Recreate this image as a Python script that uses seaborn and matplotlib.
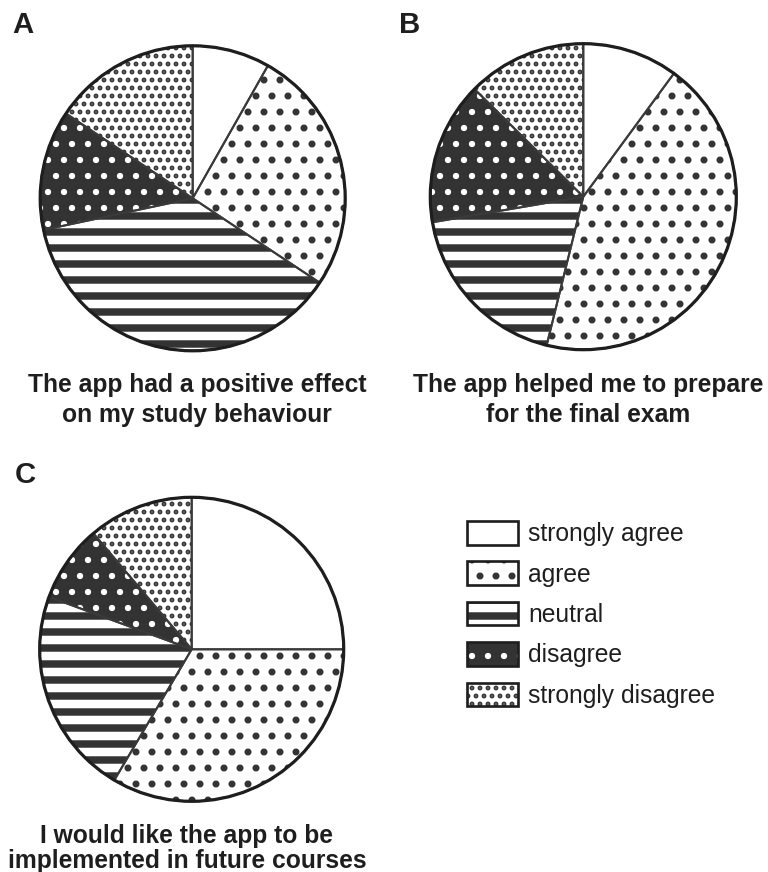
import matplotlib
matplotlib.use("Agg")
import matplotlib.pyplot as plt
import seaborn as sns
from matplotlib.patches import Patch, Circle, Rectangle
from matplotlib.legend_handler import HandlerTuple, HandlerPatch

# Survey answers in percent, clockwise from 12 o'clock
categories = ["strongly agree", "agree", "neutral", "disagree", "strongly disagree"]
effect_study = [8.2, 26.1, 37.3, 12.7, 15.6]
prepare_exam = [10.1, 43.8, 18.5, 15.1, 12.6]
future_courses = [25.0, 33.5, 22.1, 8.2, 11.2]

panel_letters = ["A", "B", "C"]
captions = [
    ["The app had a positive effect", "on my study behaviour"],
    ["The app helped me to prepare", "for the final exam"],
    ["I would like the app to be", "implemented in future courses"],
]

DARK = "#333333"
# (face, hatch, hatch colour, hatch linewidth) for each answer
styles = [
    ("white", None, DARK, 1.0),
    ("white", ".", DARK, 2.8),
    ("white", "-", DARK, 5.6),
    (DARK, ".", "white", 2.3),
    ("white", "..", DARK, 2.4),
]

sns.set_theme(style="white")
plt.rcParams["font.family"] = ["Liberation Sans", "DejaVu Sans"]

W, H, DPI = 768, 872, 96
fig = plt.figure(figsize=(W / DPI, H / DPI), dpi=DPI)
LIM = 1.03


def pie_axes(cx, cy, r):
    # cx, cy, r in pixels from the top-left corner
    return fig.add_axes([(cx - r * LIM) / W, (H - cy - r * LIM) / H,
                         2 * r * LIM / W, 2 * r * LIM / H])


def draw_pie(ax, values):
    wedges, _ = ax.pie(values, startangle=90, counterclock=False,
                       wedgeprops=dict(linewidth=0))
    for w, (fc, hatch, hc, hlw) in zip(wedges, styles):
        w.set_facecolor(fc)
        w.set_edgecolor(hc)
        w.set_hatch(hatch)
        w.set_hatch_linewidth(hlw)
    # outlines on top
    ax.pie(values, startangle=90, counterclock=False, colors=["none"] * len(values),
           wedgeprops=dict(edgecolor="#3a3a3a", linewidth=1.5))
    ax.add_patch(Circle((0, 0), 1, fill=False, edgecolor="#1e1e1e", linewidth=2.4))
    ax.set_xlim(-LIM, LIM)
    ax.set_ylim(-LIM, LIM)
    ax.set_aspect("equal")
    ax.axis("off")


ax_a = pie_axes(192.7, 198.3, 152.5)
ax_b = pie_axes(583.3, 196.7, 153)
ax_c = pie_axes(191.7, 649.3, 152)
draw_pie(ax_a, effect_study)
draw_pie(ax_b, prepare_exam)
draw_pie(ax_c, future_courses)

# panel letters
for letter, (x, y) in zip(panel_letters, [(12, 33), (399, 33), (15, 483)]):
    fig.text(x / W, 1 - y / H, letter, fontsize=22, fontweight="bold",
             color="#1e1e1e", va="baseline", ha="left")

# captions below each pie
cap_pos = [(197, 392, 422), (588, 392, 422), (187, 843, 868)]
for lines, (x, y1, y2) in zip(captions, cap_pos):
    for line, y in zip(lines, (y1, y2)):
        fig.text(x / W, 1 - y / H, line, fontsize=18.5, fontweight="bold",
                 color="#1e1e1e", ha="center", va="baseline")


# legend: keep each handle's hatch linewidth (update_from does not copy it)
def legend_box(legend, orig_handle, xdescent, ydescent, width, height, fontsize):
    p = Rectangle((-xdescent, -ydescent), width, height)
    p.set_hatch_linewidth(orig_handle.get_hatch_linewidth())
    return p


handles = []
for fc, hatch, hc, hlw in styles:
    fill = Patch(facecolor=fc, edgecolor=hc, hatch=hatch, linewidth=0)
    fill.set_hatch_linewidth(hlw)
    border = Patch(facecolor="none", edgecolor="#1e1e1e", linewidth=2)
    handles.append((fill, border))

fig.legend(handles, categories,
           handler_map={tuple: HandlerTuple(ndivide=1, pad=0),
                        Patch: HandlerPatch(patch_func=legend_box)},
           loc="upper left", bbox_to_anchor=(467 / W, 1 - 521 / H), frameon=False,
           fontsize=18.5, handlelength=2.06, handleheight=1.09, handletextpad=0.42,
           labelspacing=0.62, borderpad=0, borderaxespad=0, labelcolor="#1e1e1e")

fig.savefig("out.png", dpi=DPI, facecolor="white")
